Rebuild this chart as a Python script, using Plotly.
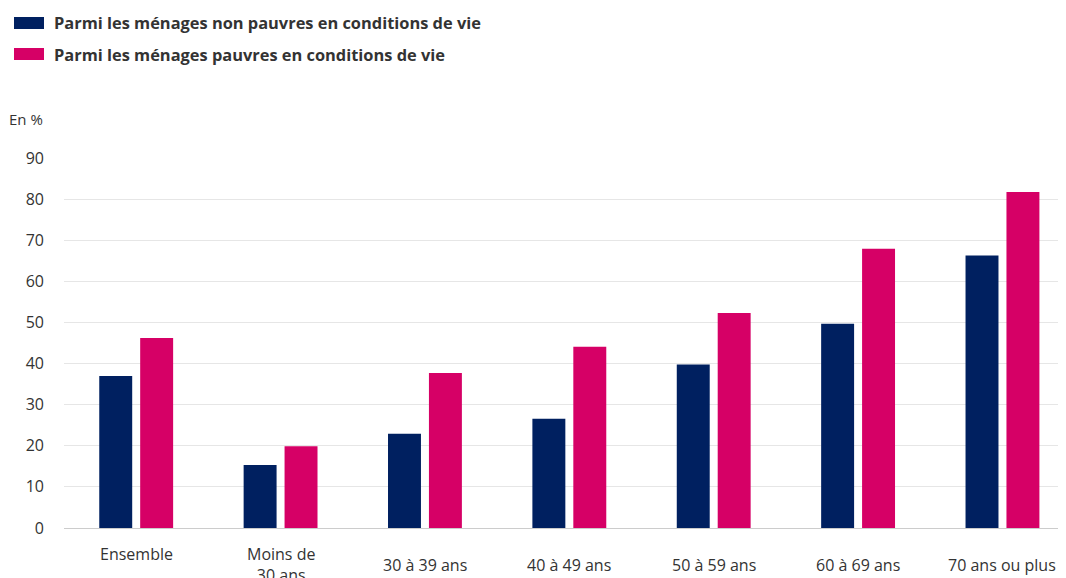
import plotly.graph_objects as go

categories = ["Ensemble", "Moins de<br>30 ans", "30 à 39 ans", "40 à 49 ans",
              "50 à 59 ans", "60 à 69 ans", "70 ans ou plus"]
non_pauvres = [37.0, 15.3, 22.9, 26.6, 39.8, 49.7, 66.3]
pauvres = [46.2, 19.9, 37.7, 44.1, 52.3, 67.9, 81.7]
series_names = ["Parmi les ménages non pauvres en conditions de vie",
                "Parmi les ménages pauvres en conditions de vie"]
colors = ["#002060", "#D60066"]
y_ticks = [0, 10, 20, 30, 40, 50, 60, 70, 80, 90]

FONT = "Open Sans"
TXT = "#333333"

# the page body has an 8px margin, so the figure is laid out 8px smaller
W, H = 1058, 570
L, T, B = 56, 150, 50
PW, PH = W - L, H - T - B


def px(x):
    return (x - L) / PW


def py(y):
    return (H - B - y) / PH


fig = go.Figure()
fig.add_trace(go.Bar(x=categories, y=non_pauvres, name=series_names[0],
                     marker_color=colors[0], marker_line_width=0))
fig.add_trace(go.Bar(x=categories, y=pauvres, name=series_names[1],
                     marker_color=colors[1], marker_line_width=0))

fig.update_layout(
    width=W, height=H,
    margin=dict(l=L, r=0, t=T, b=B),
    paper_bgcolor="white", plot_bgcolor="white",
    barmode="group", bargap=0.433, bargroupgap=0.195,
    showlegend=False,
    font=dict(family=FONT, size=16, color=TXT),
)
# the last category runs slightly past the right edge, as in the original
fig.update_xaxes(showticklabels=False, showgrid=False, showline=False,
                 range=[-0.5, 6.44])
fig.update_yaxes(range=[0, 90], tickvals=y_ticks, showgrid=True,
                 gridcolor="#e6e6e6", gridwidth=1, zeroline=True,
                 zerolinecolor="#cccccc", zerolinewidth=1, showline=False,
                 ticklabelstandoff=19, tickfont=dict(size=16, color=TXT))

# category labels below the axis
label_top = [533, 533, 544, 544, 544, 544, 544]
for cat, ly in zip(categories, label_top):
    fig.add_annotation(x=cat, y=py(ly), xref="x", yref="paper", text=cat,
                       showarrow=False, yanchor="top", align="center",
                       font=dict(size=16, color=TXT))

# custom legend at the top
for i, (name, col) in enumerate(zip(series_names, colors)):
    yc = 15 + 31 * i
    fig.add_shape(type="rect", xref="paper", yref="paper",
                  x0=px(6), x1=px(36), y0=py(yc + 6), y1=py(yc - 6),
                  fillcolor=col, line_width=0)
    fig.add_annotation(x=px(44), y=py(yc), xref="paper", yref="paper",
                       text="<b>" + name + "</b>", showarrow=False,
                       xanchor="left", yanchor="middle",
                       font=dict(size=16.4, color=TXT))

fig.add_annotation(x=px(-1), y=py(111), xref="paper", yref="paper",
                   text="En %", showarrow=False, xanchor="left",
                   yanchor="middle", font=dict(size=15, color=TXT))

fig.write_html("out.html")
